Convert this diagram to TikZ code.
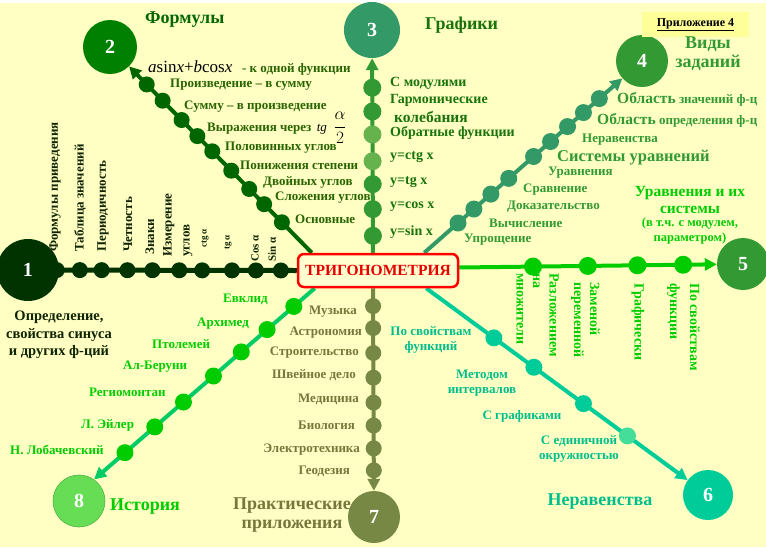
\documentclass[tikz,border=0pt]{standalone}
\usepackage{fontspec}
\setmainfont{Liberation Serif}
\usetikzlibrary{arrows.meta,calc}
\pgfdeclarelayer{back}
\pgfdeclarelayer{lines}
\pgfsetlayers{back,lines,main}
\definecolor{bgc}{RGB}{255,255,196}
\definecolor{boxc}{RGB}{255,255,208}
\definecolor{appc}{RGB}{255,255,153}
\definecolor{c1c}{RGB}{0,51,0}
\definecolor{c2c}{RGB}{0,128,0}
\definecolor{br2c}{RGB}{0,102,0}
\definecolor{c3c}{RGB}{51,153,102}
\definecolor{br3c}{RGB}{51,153,51}
\definecolor{br3l}{RGB}{102,178,77}
\definecolor{c4c}{RGB}{51,153,51}
\definecolor{br4c}{RGB}{51,153,102}
\definecolor{br5c}{RGB}{0,204,0}
\definecolor{c5c}{RGB}{51,153,51}
\definecolor{br6c}{RGB}{0,204,153}
\definecolor{br6l}{RGB}{68,221,153}
\definecolor{br7c}{RGB}{119,136,68}
\definecolor{br8c}{RGB}{0,204,102}
\definecolor{c8c}{RGB}{102,221,85}
\definecolor{t1}{RGB}{15,35,0}
\definecolor{t2}{RGB}{40,100,0}
\definecolor{t3}{RGB}{25,115,10}
\definecolor{t4}{RGB}{51,153,51}
\definecolor{t5}{RGB}{0,204,0}
\definecolor{t6}{RGB}{0,190,140}
\definecolor{t7}{RGB}{119,119,60}
\definecolor{t8}{RGB}{0,204,0}
\begin{document}
\begin{tikzpicture}[x=1pt,y=-1pt,
  lab/.style={inner sep=0pt, font=\bfseries\fontsize{13}{15}\selectfont},
  head/.style={inner sep=0pt, font=\bfseries\fontsize{18}{19}\selectfont},
  num/.style={circle, inner sep=0pt, text=white, font=\bfseries\fontsize{20}{20}\selectfont},
  dot/.style={circle, inner sep=0pt, minimum size=16pt},
  tip/.style={-{Triangle[length=12pt,width=12pt]}},
  branch/.style={line width=4pt},
]
\begin{pgfonlayer}{back}
\fill[bgc] (0,0) rectangle (766,547);
\fill[white] (0,0) rectangle (766,3);
\end{pgfonlayer}
\useasboundingbox (0,0) rectangle (766,547);

% centre
\node[draw=red, line width=2.5pt, rounded corners=6pt, fill=boxc,
      minimum width=160pt, minimum height=33pt, inner sep=0pt,
      text=red!90!black, font=\bfseries\fontsize{15.5}{16}\selectfont]
      (trig) at (378,270.5) {ТРИГОНОМЕТРИЯ};

% circles
\node[num, fill=c1c, minimum size=62pt] (c1) at (28,270) {1};
\node[num, fill=c2c, minimum size=54pt] (c2) at (110,47) {2};
\node[num, fill=c3c, minimum size=56pt] (c3) at (372,30) {3};
\node[num, fill=c4c, minimum size=52pt] (c4) at (642,61) {4};
\node[num, fill=c5c, minimum size=52pt] (c5) at (743,264) {5};
\node[num, fill=br6c, minimum size=50pt] (c6) at (708,495) {6};
\node[num, fill=br7c, minimum size=52pt] (c7) at (374,517) {7};
\node[num, fill=c8c, draw=c8c!80!black, line width=0.6pt, minimum size=52pt] (c8) at (79,501) {8};

% start points on the box
\coordinate (s1) at (trig.west);
\coordinate (s2) at ([xshift=15pt]trig.north west);
\coordinate (s3) at ([xshift=-5pt]trig.north);
\coordinate (s4) at ([xshift=-35pt]trig.north east);
\coordinate (s5) at ([yshift=3pt]trig.east);
\coordinate (s6) at ([xshift=-33pt]trig.south east);
\coordinate (s7) at ([xshift=-5pt]trig.south);
\coordinate (s8) at ([xshift=18pt]trig.south west);

\begin{pgfonlayer}{lines}
\draw[c1c, line width=5pt] (s1) -- (c1);
\draw[br2c, branch, tip] (s2) -- (c2);
\draw[br3c, branch, tip] (s3) -- (c3);
\draw[br4c, branch, tip] (s4) -- (c4);
\draw[br5c, branch, tip] (s5) -- (c5);
\draw[br6c, branch, tip] (s6) -- (c6);
\draw[br7c, branch, tip] (s7) -- (c7);
\draw[br8c, branch, tip] (s8) -- (c8.55);
\foreach \t [count=\i] in {0.059,0.152,0.241,0.352,0.437,0.537,0.630,0.726,0.807,0.893}
  \node[dot, fill=c1c] (d1-\i) at ($(s1)!\t!(c1)$) {};
\foreach \t [count=\i] in {0.148,0.236,0.310,0.399,0.493,0.567,0.645,0.739,0.818}
  \node[dot, fill=br2c] (d2-\i) at ($(s2)!\t!(c2)$) {};
\foreach \t/\c [count=\i] in {0.076/br3c,0.196/br3c,0.308/br3c,0.411/br3l,0.531/br3l,0.634/br3c,0.741/br3c}
  \node[dot, minimum size=18pt, fill=\c] (d3-\i) at ($(s3)!\t!(c3)$) {};
\foreach \t [count=\i] in {0.155,0.228,0.306,0.388,0.502,0.580,0.658,0.731,0.804}
  \node[dot, minimum size=17pt, fill=br4c] (d4-\i) at ($(s4)!\t!(c4)$) {};
\foreach \t [count=\i] in {0.260,0.453,0.628,0.789}
  \node[dot, minimum size=18pt, fill=br5c] (d5-\i) at ($(s5)!\t!(c5)$) {};
\foreach \t/\c [count=\i] in {0.240/br6c,0.382/br6c,0.558/br6c,0.714/br6l}
  \node[dot, minimum size=17pt, fill=\c] (d6-\i) at ($(s6)!\t!(c6)$) {};
\foreach \t [count=\i] in {0.078,0.174,0.283,0.391,0.5,0.6,0.7,0.796}
  \node[dot, fill=br7c] (d7-\i) at ($(s7)!\t!(c7)$) {};
\foreach \t [count=\i] in {0.095,0.216,0.333,0.459,0.595,0.725,0.860}
  \node[dot, minimum size=17pt, fill=br5c] (d8-\i) at ($(s8)!\t!(c8.55)$) {};
\end{pgfonlayer}

% ---- branch 1 labels
\begin{scope}[every node/.style={lab, text=t1, rotate=90, anchor=west}]
\node (l1a) at (55,252) {Формулы приведения};
\node (l1b) at (80,252) {Таблица значений};
\node (l1c) at (103,252) {Периодичность};
\node (l1d) at (128,252) {Четность};
\node (l1e) at (150,255) {Знаки};
\node[anchor=north west, align=left, font=\bfseries\fontsize{13}{18}\selectfont] (l1f) at (163,257) {Измерение\\углов};
\node[font=\bfseries\fontsize{9}{9}\selectfont] (l1g) at (205,248) {ctg α};
\node[font=\bfseries\fontsize{9}{9}\selectfont] (l1h) at (228,250) {tg α};
\node[font=\bfseries\fontsize{11}{11}\selectfont] (l1i) at (255,262) {Cos α};
\node[font=\bfseries\fontsize{11}{11}\selectfont] (l1j) at (272,262) {Sin α};
\end{scope}
\node[lab, text=t1, align=center, font=\bfseries\fontsize{14.5}{17.5}\selectfont] (l1k) at (59,335) {Определение,\\свойства синуса\\и других ф-ций};

% ---- branch 2 labels
\node[head, text=br2c, anchor=west] (h2) at (145,20) {Формулы};
\begin{scope}[every node/.style={lab, text=t2, anchor=west}]
\node (l2a) at (148,68) {{\mdseries\color{black}\fontsize{17}{17}\selectfont\textit{a}sin\textit{x}+\textit{b}cos\textit{x}}\ \ \ - к одной функции};
\node (l2b) at (170,85) {Произведение – в сумму};
\node (l2c) at (184,107) {Сумму – в произведение};
\node (l2d) at (207,128) {Выражения через \,{\mdseries\itshape\color{black} tg}\ \ {\color{black}\fontsize{16}{16}\selectfont$\displaystyle\frac{\alpha}{2}$}};
\node (l2e) at (225,148) {Половинных углов};
\node (l2f) at (240,165) {Понижения степени};
\node (l2g) at (263,182) {Двойных углов};
\node (l2h) at (275,198) {Сложения углов};
\node (l2i) at (295,219) {Основные};
\end{scope}

% ---- branch 3 labels
\node[head, text=t3, anchor=west] (h3) at (425,25) {Графики};
\begin{scope}[every node/.style={lab, text=t3, anchor=west, font=\bfseries\fontsize{14}{15}\selectfont}]
\node (l3a) at (390,83) {С модулями};
\node (l3b) at (390,100) {Гармонические};
\node[font=\bfseries\fontsize{15.5}{16}\selectfont] (l3c) at (394,117) {колебания};
\node (l3d) at (390,133) {Обратные функции};
\node (l3e) at (390,157) {y=ctg x};
\node (l3f) at (390,182) {y=tg x};
\node (l3g) at (390,207) {y=cos x};
\node (l3h) at (390,232) {y=sin x};
\end{scope}

% ---- branch 4 labels
\node[fill=appc, minimum width=107pt, minimum height=25pt, inner sep=0pt,
      font=\bfseries\fontsize{12}{12}\selectfont] (app) at (695.5,24.5) {\underline{Приложение 4}};
\node[head, text=t4, align=center] (h4) at (708,54) {Виды\\заданий};
\begin{scope}[every node/.style={lab, text=t4, anchor=west}]
\node (l4a) at (617,99) {{\fontsize{15.5}{16}\selectfont Область} значений ф-ц};
\node (l4b) at (597,120) {{\fontsize{15.5}{16}\selectfont Область} определения ф-ц};
\node (l4c) at (582,140) {Неравенства};
\node[font=\bfseries\fontsize{16.5}{17}\selectfont] (l4d) at (557,158) {Системы уравнений};
\node (l4e) at (548,173) {Уравнения};
\node (l4f) at (523,190) {Сравнение};
\node (l4g) at (507,207) {Доказательство};
\node (l4h) at (489,223) {Вычисление};
\node (l4i) at (464,240) {Упрощение};
\end{scope}

% ---- branch 5 labels
\node[lab, text=t5, align=center, font=\bfseries\fontsize{15.5}{17}\selectfont] (h5) at (690,200)
  {Уравнения и их\\системы};
\node[lab, text=t5, align=center, font=\bfseries\fontsize{12.5}{15}\selectfont] (h5b) at (690,231)
  {(в т.ч. с модулем,\\параметром)};
\begin{scope}[every node/.style={lab, text=t5, rotate=-90, font=\bfseries\fontsize{14}{16.5}\selectfont}]
\node[anchor=north west, align=left] (l5a) at (559,273) {Разложением\\на\\множители};
\node[anchor=north west, align=left, font=\bfseries\fontsize{14}{16}\selectfont] (l5b) at (600,282) {Заменой\\переменной};
\node[anchor=west] (l5c) at (638,283) {Графически};
\node[anchor=north west, align=left, font=\bfseries\fontsize{14}{20}\selectfont] (l5d) at (700,283) {По свойствам\\функции};
\end{scope}

% ---- branch 6 labels
\begin{scope}[every node/.style={lab, text=t6, align=center, font=\bfseries\fontsize{13}{15}\selectfont}]
\node (l6a) at (431,340) {По свойствам\\функций};
\node (l6b) at (482,383) {Методом\\интервалов};
\node (l6c) at (522,416) {С графиками};
\node (l6d) at (579,449) {С единичной\\окружностью};
\end{scope}
\node[head, text=t6] (h6) at (600,502) {Неравенства};

% ---- branch 7 labels
\begin{scope}[every node/.style={lab, text=t7, anchor=east}]
\node (l7a) at (357,312) {Музыка};
\node (l7b) at (362,333) {Астрономия};
\node (l7c) at (359,353) {Строительство};
\node (l7d) at (356,375) {Швейное дело};
\node (l7e) at (359,399) {Медицина};
\node (l7f) at (355,425) {Биология};
\node (l7g) at (360,450) {Электротехника};
\node (l7h) at (350,471) {Геодезия};
\end{scope}
\node[head, text=t7, align=center, font=\bfseries\fontsize{18}{19}\selectfont] (h7) at (292,515) {Практические\\приложения};

% ---- branch 8 labels
\begin{scope}[every node/.style={lab, text=t8, anchor=west}]
\node (l8a) at (223,299) {Евклид};
\node (l8b) at (197,324) {Архимед};
\node (l8c) at (152,344) {Птолемей};
\node (l8d) at (123,367) {Ал-Беруни};
\node (l8e) at (89,392) {Региомонтан};
\node (l8f) at (81,425) {Л. Эйлер};
\node (l8g) at (10,450) {Н. Лобачевский};
\end{scope}
\node[head, text=t8, anchor=west] (h8) at (110,507) {История};
\end{tikzpicture}
\end{document}
